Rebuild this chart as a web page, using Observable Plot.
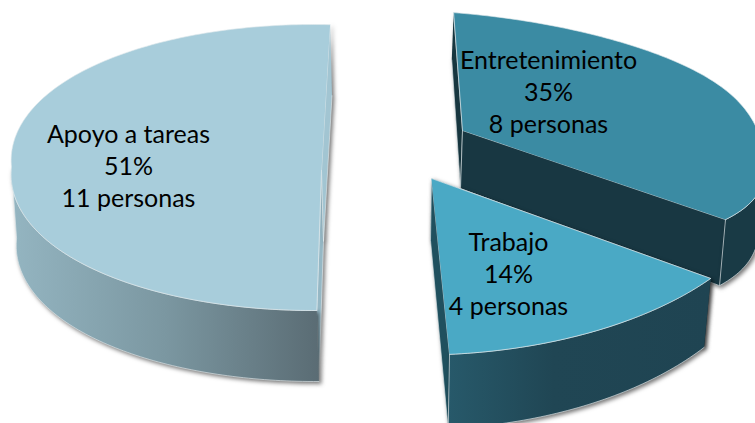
<!DOCTYPE html>
<html>
<head>
<meta charset="utf-8">
<style>html,body{margin:0;padding:0;background:#fff}svg{display:block}</style>
<script src="https://cdn.jsdelivr.net/npm/d3@7"></script>
<script src="https://cdn.jsdelivr.net/npm/@observablehq/plot@0.6"></script>
</head>
<body>
<div id="chart"></div>
<script>
// Data
const categories = ["Entretenimiento", "Trabajo", "Apoyo a tareas"];
const percents = [35, 14, 51];
const people = [8, 4, 11];

// Layout of the exploded 3D pie (chart units = px)
const rotation = 3;
const shapes = [
  {cx:462, cy:130, ax:462, ay:130, rx:321, sh:25.7, ry:119, sy:18.3, dx:-2, dy:58, mx:.985, my:1.09, wall:[92,129], bulge:0, pinch:20,
   top:"#3b8ba3", wallFill:"url(#gEnt)", radA:"#17363f", radB:"#183742", lx:548, ly:90},
  {cx:431, cy:178, ax:431, ay:178, rx:347.5, sh:14.4, ry:176, sy:-13.9, dx:-1, dy:62, mx:.98, my:1.07, wall:[129,179.4], bulge:0, pinch:0,
   top:"#4aa9c5", wallFill:"url(#gTra)", radA:"#20505e", radB:"#20505e", lx:508, ly:272},
  {cx:313, cy:167, ax:321, ay:170, rx:302, sh:0, ry:143, sy:0, dx:2, dy:71, mx:.99, my:1, wall:[179.4,270], bulge:15, pinch:0,
   top:"#a8cddb", wallFill:"url(#gApo)", radA:"#96b8c5", radB:"#a2c5d2", lx:128, ly:164}
];

const rad = d => d * Math.PI / 180;
function point(s, deg) {
  const u = Math.sin(rad(deg)), v = -Math.cos(rad(deg));
  return {
    x: s.cx + s.rx * u + s.sh * v + s.bulge * u * Math.abs(v) - s.pinch * Math.pow(Math.abs(u), 8) * Math.sign(u),
    y: s.cy + s.ry * v + s.sy * u
  };
}
function lower(s, p) {
  return {x: s.ax + s.dx + s.mx * (p.x - s.ax), y: s.ay + s.dy + s.my * (p.y - s.ay)};
}
function arc(s, a, b) {
  const n = Math.max(2, Math.ceil(Math.abs(b - a)));
  return d3.range(n + 1).map(i => point(s, a + (b - a) * i / n));
}

// angles follow from the shares
let acc = rotation;
const slices = categories.map((name, i) => {
  const a = acc; acc += percents[i] * 3.6;
  return {name, pct: percents[i], n: people[i], a, b: acc, s: shapes[i]};
});

const edge = "#dfe9ec";
const shadow = "drop-shadow(2px 2px 2px rgba(0,0,0,.55))";
const poly = (pts, fill, extra = {}) =>
  Plot.line(pts, {x: "x", y: "y", fill, stroke: edge, strokeWidth: .8, strokeOpacity: .8, ...extra});

const defs = () => {
  const d = d3.create("svg:defs");
  const grad = (id, stops) => {
    const g = d.append("linearGradient").attr("id", id);
    stops.forEach(([o, c]) => g.append("stop").attr("offset", o).attr("stop-color", c));
  };
  grad("gEnt", [[0, "#193a45"], [1, "#193a45"]]);
  grad("gTra", [[0, "#27596a"], [.4, "#204654"], [1, "#1f4452"]]);
  grad("gApo", [[0, "#94b5c1"], [.5, "#7b97a1"], [1, "#5a6c74"]]);
  return d.node();
};

const marks = [defs];
for (const {a, b, s} of slices) {
  const apex = {x: s.ax, y: s.ay};
  const A = point(s, a), B = point(s, b);
  const quad = p => [p, apex, lower(s, apex), lower(s, p)];
  const top = [apex, ...arc(s, a, b)];
  const w = arc(s, s.wall[0], s.wall[1]);
  const wall = [...w, ...w.slice().reverse().map(p => lower(s, p))];
  marks.push(
    poly(quad(A), s.radA, {imageFilter: shadow}),
    poly(quad(B), s.radB, {imageFilter: shadow}),
    poly(wall, s.wallFill, {imageFilter: shadow}),
    poly(top, s.top)
  );
}
marks.push(Plot.text(slices, {
  x: d => d.s.lx, y: d => d.s.ly,
  text: d => `${d.name}\n${d.pct}%\n${d.n} personas`,
  fill: "#000", fontSize: 25, lineHeight: 1.28, textAnchor: "middle", lineAnchor: "middle"
}));

const chart = Plot.plot({
  width: 755, height: 423,
  margin: 0,
  style: {fontFamily: "Lato, 'Open Sans', sans-serif", background: "#fff"},
  x: {domain: [0, 755], range: [0, 755], axis: null},
  y: {domain: [0, 423], range: [0, 423], axis: null},
  marks
});
document.getElementById("chart").append(chart);
</script>
</body>
</html>
